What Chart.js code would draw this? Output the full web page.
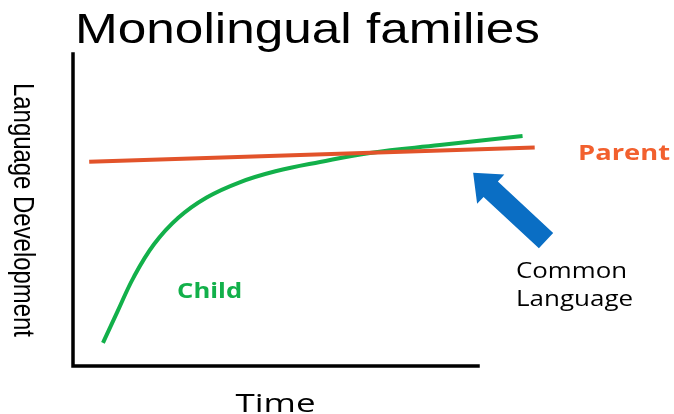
<!DOCTYPE html>
<html>
<head>
<meta charset="utf-8">
<title>Monolingual families</title>
<script src="https://cdn.jsdelivr.net/npm/chart.js@4/dist/chart.umd.min.js"></script>
<style>
    html, body { margin: 0; padding: 0; background: #ffffff; }
    #wrap { position: relative; width: 674px; height: 414px; }
</style>
</head>
<body>
<div id="wrap"><canvas id="monoChart" width="674" height="414"></canvas></div>
<script>
// Values (x = time, y = language development, 0..100 on the axes box)
const parentTime = [4, 114];
const parentLevel = [65.5, 70];
const childTime = [7.4, 11, 15, 20, 26, 33, 41, 50, 61, 73.3, 90.6, 111];
const childLevel = [7.4, 17.5, 28.5, 39, 47.5, 54, 58.8, 62.4, 65.4, 68.3, 70.8, 73.7];

// Text labels
const titleText = 'Monolingual families';
const xTitle = 'Time';
const yTitle = 'Language Development';
const parentLabel = 'Parent';
const childLabel = 'Child';
const commonLabel = ['Common', 'Language'];

// Annotation anchors, in data units
const arrowFrom = [116.8, 40.2];
const arrowTo = [98.8, 61.9];

const GREEN = '#12b04a';
const RED = '#e2532a';
const ORANGE = '#f2602e';
const BLUE = '#0a6ec4';

function toPoints(xs, ys) {
    return xs.map((x, i) => ({ x: x, y: ys[i] }));
}

// draw text squeezed/stretched horizontally so it covers a given width
function fitText(ctx, text, x, y, width, align) {
    const w = ctx.measureText(text).width;
    const sx = width / w;
    ctx.save();
    ctx.translate(x, y);
    ctx.scale(sx, 1);
    ctx.textAlign = align || 'left';
    ctx.fillText(text, 0, 0);
    ctx.restore();
}

const decorPlugin = {
    id: 'decor',
    afterDatasetsDraw(chart) {
        const { ctx, chartArea, scales } = chart;
        const xs = scales.x, ys = scales.y;
        const left = chartArea.left, right = chartArea.right;
        const top = chartArea.top, bottom = chartArea.bottom;

        ctx.save();
        // axes
        ctx.strokeStyle = '#000000';
        ctx.lineWidth = 3.5;
        ctx.lineCap = 'square';
        ctx.beginPath();
        ctx.moveTo(left, top);
        ctx.lineTo(left, bottom);
        ctx.lineTo(right, bottom);
        ctx.stroke();

        // title
        ctx.fillStyle = '#000000';
        ctx.textBaseline = 'alphabetic';
        ctx.font = '42px "Liberation Sans", Arial, sans-serif';
        fitText(ctx, titleText, 75, 43, 465, 'left');

        // y axis title, rotated
        ctx.save();
        ctx.translate(14, (top + bottom) / 2);
        ctx.rotate(Math.PI / 2);
        ctx.font = '24px "Liberation Sans", Arial, sans-serif';
        const yw = ctx.measureText(yTitle).width;
        ctx.scale(254 / yw, 1.22);
        ctx.textAlign = 'center';
        ctx.fillText(yTitle, 0, 0);
        ctx.restore();

        // x axis title
        ctx.font = '25px "Open Sans", sans-serif';
        fitText(ctx, xTitle, (left + right) / 2, 412, 80, 'center');

        // series labels
        ctx.font = 'bold 22px "Open Sans", sans-serif';
        ctx.fillStyle = ORANGE;
        fitText(ctx, parentLabel, xs.getPixelForValue(124.7), ys.getPixelForValue(68.6) + 8, 92, 'left');
        ctx.fillStyle = GREEN;
        fitText(ctx, childLabel, xs.getPixelForValue(25.7), ys.getPixelForValue(21.8), 65, 'left');

        ctx.font = '21px "Open Sans", sans-serif';
        ctx.fillStyle = '#000000';
        fitText(ctx, commonLabel[0], xs.getPixelForValue(109.4), ys.getPixelForValue(28.2), 111, 'left');
        fitText(ctx, commonLabel[1], xs.getPixelForValue(109.4), ys.getPixelForValue(19.2), 117, 'left');

        // arrow
        const x0 = xs.getPixelForValue(arrowFrom[0]), y0 = ys.getPixelForValue(arrowFrom[1]);
        const x1 = xs.getPixelForValue(arrowTo[0]), y1 = ys.getPixelForValue(arrowTo[1]);
        const ang = Math.atan2(y1 - y0, x1 - x0);
        const len = Math.hypot(x1 - x0, y1 - y0);
        const headLen = 24, headW = 20, shaftW = 10.5;
        ctx.translate(x0, y0);
        ctx.rotate(ang);
        ctx.fillStyle = BLUE;
        ctx.beginPath();
        ctx.moveTo(0, -shaftW);
        ctx.lineTo(len - headLen, -shaftW);
        ctx.lineTo(len - headLen, -headW);
        ctx.lineTo(len, 0);
        ctx.lineTo(len - headLen, headW);
        ctx.lineTo(len - headLen, shaftW);
        ctx.lineTo(0, shaftW);
        ctx.closePath();
        ctx.fill();
        ctx.restore();
    }
};

new Chart(document.getElementById('monoChart').getContext('2d'), {
    type: 'line',
    data: {
        datasets: [{
            label: parentLabel,
            data: toPoints(parentTime, parentLevel),
            borderColor: RED,
            borderWidth: 4,
            pointRadius: 0,
            clip: false
        }, {
            label: childLabel,
            data: toPoints(childTime, childLevel),
            borderColor: GREEN,
            borderWidth: 4,
            pointRadius: 0,
            tension: 0.4,
            clip: false
        }]
    },
    options: {
        responsive: false,
        animation: false,
        events: [],
        layout: {
            padding: { left: 73, right: 196, top: 54, bottom: 48 }
        },
        plugins: {
            legend: { display: false },
            title: { display: false },
            tooltip: { enabled: false }
        },
        scales: {
            x: { type: 'linear', min: 0, max: 100, display: false },
            y: { type: 'linear', min: 0, max: 100, display: false }
        }
    },
    plugins: [decorPlugin]
});
</script>
</body>
</html>
